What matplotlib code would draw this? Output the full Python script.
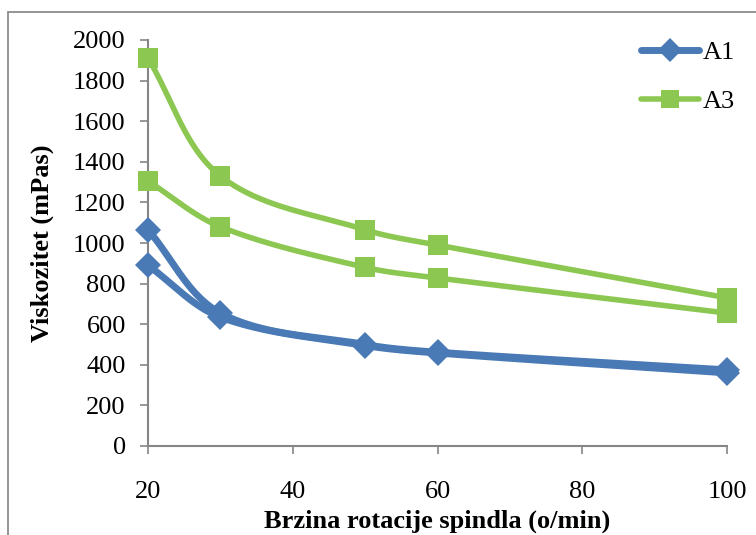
import numpy as np
import matplotlib
matplotlib.use("Agg")
import matplotlib.pyplot as plt
from matplotlib.patches import Rectangle
from matplotlib.lines import Line2D

# Spindle speeds (o/min) and viscosities (mPas), measured going up and coming back down
speed = [20, 30, 50, 60, 100]
a1_up = [1065, 655, 500, 462, 375]
a1_down = [890, 635, 495, 458, 360]
a3_up = [1910, 1330, 1065, 990, 730]
a3_down = [1305, 1080, 880, 828, 655]

x_ticks = [20, 40, 60, 80, 100]
y_ticks = list(range(0, 2001, 200))

BLUE = "#4a7ab5"
GREEN = "#8cc751"
GRAY = "#868686"

plt.rcParams["font.family"] = ["Liberation Serif", "DejaVu Serif"]


def smooth(xs, ys, n=60):
    """Smoothed line: cubic Bezier segments with chord-weighted tangents."""
    P = np.column_stack([xs, ys]).astype(float)
    # normalise so that both axes carry comparable weight on screen
    sx, sy = 80.0 / 579, 2000.0 / 406
    Q = P / [sx, sy]
    m = len(Q)
    tang = np.zeros_like(Q)
    for i in range(m):
        p_prev = Q[i - 1] if i > 0 else Q[i]
        p_next = Q[i + 1] if i < m - 1 else Q[i]
        tang[i] = p_next - p_prev
    pts = []
    for i in range(m - 1):
        p1, p2 = Q[i], Q[i + 1]
        d = np.linalg.norm(p2 - p1)
        t1 = tang[i] / (np.linalg.norm(tang[i]) + 1e-9)
        t2 = tang[i + 1] / (np.linalg.norm(tang[i + 1]) + 1e-9)
        c1 = p1 + t1 * d / 3.0
        c2 = p2 - t2 * d / 3.0
        t = np.linspace(0, 1, n)[:, None]
        seg = ((1 - t) ** 3) * p1 + 3 * ((1 - t) ** 2) * t * c1 + 3 * (1 - t) * t ** 2 * c2 + t ** 3 * p2
        pts.append(seg if i == 0 else seg[1:])
    S = np.vstack(pts) * [sx, sy]
    return S[:, 0], S[:, 1]


fig = plt.figure(figsize=(7.56, 5.35), dpi=100)
ax = fig.add_axes([148 / 756, 1 - 446 / 535, (727 - 148) / 756, (446 - 40) / 535])

series = [
    (a1_up, BLUE, "D", 5.0, 13),
    (a1_down, BLUE, "D", 5.0, 13),
    (a3_up, GREEN, "s", 4.0, 14),
    (a3_down, GREEN, "s", 4.0, 14),
]
for ys, col, mk, lw, ms in series:
    sx_, sy_ = smooth(speed, ys)
    ax.plot(sx_, sy_, color=col, lw=lw, solid_capstyle="round", zorder=2, clip_on=False)
    ax.plot(speed, ys, linestyle="none", marker=mk, ms=ms, color=col,
            markeredgewidth=0, zorder=3, clip_on=False)

ax.set_xlim(20, 100)
ax.set_ylim(0, 2000)
ax.set_xticks(x_ticks)
ax.set_yticks(y_ticks)
ax.tick_params(axis="both", direction="out", length=6, width=1.2, color=GRAY,
               labelsize=19, labelcolor="black")
ax.tick_params(axis="x", pad=19)
ax.tick_params(axis="y", pad=10)
for side in ("top", "right"):
    ax.spines[side].set_visible(False)
for side in ("left", "bottom"):
    ax.spines[side].set_color(GRAY)
    ax.spines[side].set_linewidth(1.5)
ax.patch.set_alpha(0)

ax.set_xlabel("Brzina rotacije spindla (o/min)", fontsize=19, fontweight="bold", labelpad=5)
ax.set_ylabel("Viskozitet (mPas)", fontsize=19, fontweight="bold", labelpad=14)

handles = [
    Line2D([], [], color=BLUE, lw=5.0, marker="D", ms=12, mew=0, solid_capstyle="round"),
    Line2D([], [], color=GREEN, lw=4.0, marker="s", ms=13, mew=0, solid_capstyle="round"),
]
fig.legend(handles, ["A1", "A3"], loc="upper left", bbox_to_anchor=(641 / 756, 1 - 41 / 535),
           frameon=False, fontsize=19, handlelength=2.2, handletextpad=0.15,
           labelspacing=0.95, borderaxespad=0, borderpad=0)

# chart area border
fig.patches.append(Rectangle((8 / 756, -0.05), 1.2, 1 - 12 / 535 + 0.05,
                             transform=fig.transFigure, fill=False,
                             edgecolor="#8c8c8c", lw=1.3, zorder=0))

fig.savefig("out.png", dpi=100)
